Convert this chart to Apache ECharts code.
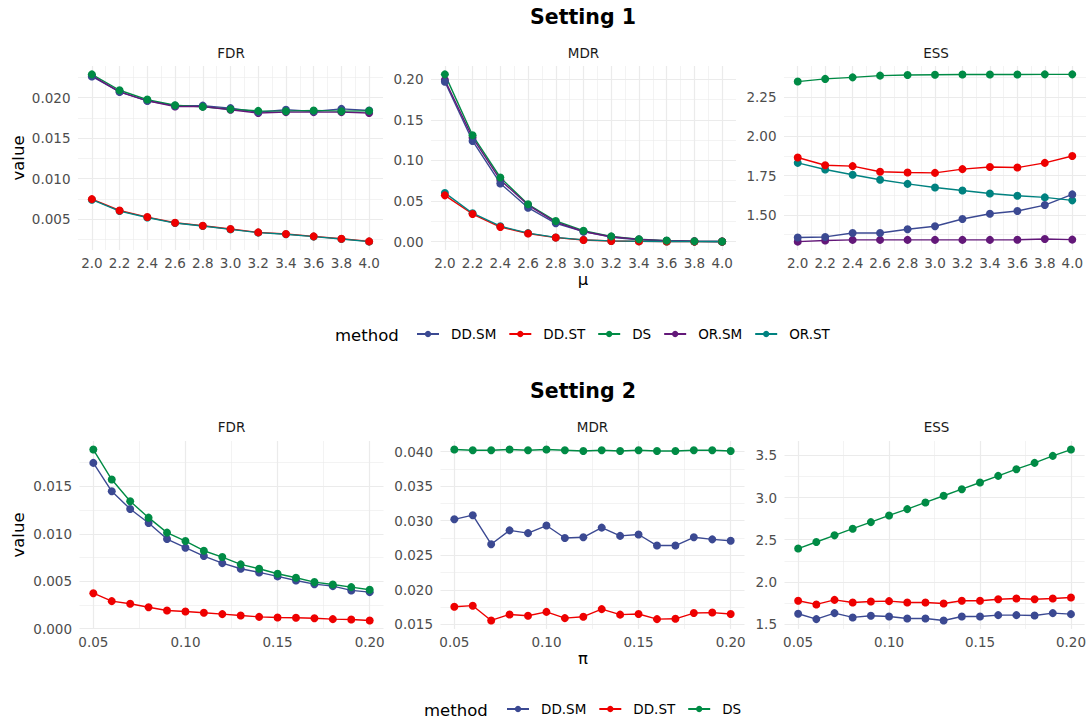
<!DOCTYPE html>
<html>
<head>
<meta charset="utf-8">
<script src="https://cdn.jsdelivr.net/npm/echarts@6/dist/echarts.min.js"></script>
<style>
html,body{margin:0;padding:0;background:#fff;}
#chart{width:1089px;height:721px;}
</style>
</head>
<body>
<div id="chart"></div>
<script>
// ---------- Data ----------
const methods1 = ['DD.SM', 'DD.ST', 'DS', 'OR.SM', 'OR.ST'];
const methods2 = ['DD.SM', 'DD.ST', 'DS'];
const muValues = [2.0, 2.2, 2.4, 2.6, 2.8, 3.0, 3.2, 3.4, 3.6, 3.8, 4.0];
const piValues = [0.05, 0.06, 0.07, 0.08, 0.09, 0.10, 0.11, 0.12, 0.13, 0.14, 0.15, 0.16, 0.17, 0.18, 0.19, 0.20];

// Setting 1 - FDR
const s1FDR_DDSM = [0.0226, 0.0207, 0.0196, 0.0190, 0.0190, 0.0187, 0.0182, 0.0185, 0.0183, 0.0186, 0.0184];
const s1FDR_DDST = [0.00747, 0.00607, 0.00526, 0.00456, 0.00419, 0.00378, 0.00337, 0.00317, 0.00288, 0.00259, 0.00226];
const s1FDR_DS   = [0.02286, 0.0209, 0.01975, 0.01905, 0.01885, 0.01856, 0.01836, 0.01832, 0.0184, 0.01832, 0.01836];
const s1FDR_ORSM = [0.0227, 0.0207, 0.0196, 0.0189, 0.0189, 0.0185, 0.0181, 0.0182, 0.0182, 0.0182, 0.0181];
const s1FDR_ORST = [0.0074, 0.0060, 0.0052, 0.00452, 0.00415, 0.00374, 0.00334, 0.00314, 0.00285, 0.00256, 0.00223];

// Setting 1 - MDR
const s1MDR_DDSM = [0.197, 0.124, 0.0717, 0.0418, 0.0226, 0.0123, 0.0055, 0.0022, 0.0008, 0.0003, 0.0001];
const s1MDR_DDST = [0.057, 0.034, 0.0180, 0.0100, 0.0050, 0.0020, 0.0008, 0.0003, 0.0001, 0.00003, 0.00001];
const s1MDR_DS   = [0.206, 0.131, 0.0790, 0.0460, 0.0254, 0.0135, 0.0065, 0.0030, 0.0013, 0.0005, 0.0002];
const s1MDR_ORSM = [0.199, 0.128, 0.0760, 0.0450, 0.0240, 0.0125, 0.0060, 0.0028, 0.0012, 0.0005, 0.0002];
const s1MDR_ORST = [0.060, 0.035, 0.0190, 0.0105, 0.0052, 0.0022, 0.0009, 0.0004, 0.00015, 0.00005, 0.00002];

// Setting 1 - ESS
const s1ESS_DDSM = [1.355, 1.359, 1.384, 1.384, 1.408, 1.427, 1.473, 1.507, 1.524, 1.562, 1.630];
const s1ESS_DDST = [1.865, 1.816, 1.810, 1.774, 1.770, 1.767, 1.791, 1.805, 1.801, 1.831, 1.875];
const s1ESS_DS   = [2.349, 2.366, 2.376, 2.387, 2.391, 2.393, 2.394, 2.394, 2.394, 2.395, 2.395];
const s1ESS_ORSM = [1.329, 1.336, 1.340, 1.340, 1.340, 1.340, 1.340, 1.340, 1.341, 1.346, 1.342];
const s1ESS_ORST = [1.831, 1.789, 1.755, 1.723, 1.697, 1.674, 1.655, 1.636, 1.621, 1.611, 1.592];

// Setting 2 - FDR
const s2FDR_DDSM = [0.01748, 0.01448, 0.01261, 0.01113, 0.00944, 0.00853, 0.00765, 0.0069, 0.00631, 0.00592, 0.0055, 0.00507, 0.00468, 0.00447, 0.00402, 0.00384];
const s2FDR_DDST = [0.00373, 0.00289, 0.00261, 0.00225, 0.0019, 0.0018, 0.00166, 0.00152, 0.00137, 0.00123, 0.00116, 0.00113, 0.00109, 0.00099, 0.00095, 0.00085];
const s2FDR_DS   = [0.01889, 0.01572, 0.01343, 0.0117, 0.01012, 0.00923, 0.00821, 0.00754, 0.00677, 0.00631, 0.00578, 0.00536, 0.0049, 0.00465, 0.00437, 0.00409];

// Setting 2 - MDR
const s2MDR_DDSM = [0.0302, 0.0308, 0.0266, 0.0286, 0.0282, 0.0293, 0.0275, 0.0276, 0.0290, 0.0278, 0.0280, 0.0264, 0.0264, 0.0276, 0.0273, 0.0271];
const s2MDR_DDST = [0.01754, 0.0177, 0.01556, 0.01643, 0.01624, 0.0168, 0.0159, 0.0161, 0.0172, 0.0164, 0.0165, 0.01575, 0.0158, 0.01663, 0.0167, 0.0165];
const s2MDR_DS   = [0.0403, 0.0402, 0.0402, 0.0403, 0.0402, 0.0403, 0.0402, 0.0401, 0.0402, 0.0401, 0.0402, 0.0401, 0.0401, 0.0402, 0.0402, 0.0401];

// Setting 2 - ESS
const s2ESS_DDSM = [1.622, 1.559, 1.630, 1.579, 1.598, 1.590, 1.567, 1.567, 1.543, 1.590, 1.590, 1.606, 1.606, 1.602, 1.630, 1.618];
const s2ESS_DDST = [1.776, 1.733, 1.787, 1.756, 1.768, 1.772, 1.756, 1.756, 1.744, 1.776, 1.776, 1.795, 1.803, 1.795, 1.803, 1.815];
const s2ESS_DS   = [2.395, 2.473, 2.552, 2.631, 2.709, 2.788, 2.863, 2.942, 3.021, 3.099, 3.178, 3.257, 3.336, 3.411, 3.494, 3.569];

// Tick settings (interval, decimals)
const xTicks1 = { step: 0.2, digits: 1 };
const xTicks2 = { step: 0.05, digits: 2 };
const yTicks = [
  { step: 0.005, digits: 3 }, { step: 0.05, digits: 2 }, { step: 0.25, digits: 2 },
  { step: 0.005, digits: 3 }, { step: 0.005, digits: 3 }, { step: 0.5, digits: 1 }
];
const panelTitles = ['FDR', 'MDR', 'ESS'];

// ---------- Styling ----------
const FONT = 'DejaVu Sans';
const colors = { 'DD.SM': '#3B4992', 'DD.ST': '#EE0000', 'DS': '#008B45', 'OR.SM': '#631879', 'OR.ST': '#008280' };
const pointOrder = ['OR.SM', 'OR.ST', 'DD.SM', 'DD.ST', 'DS'];

const panels = [
  { x: muValues, series: { 'DD.SM': s1FDR_DDSM, 'DD.ST': s1FDR_DDST, 'DS': s1FDR_DS, 'OR.SM': s1FDR_ORSM, 'OR.ST': s1FDR_ORST } },
  { x: muValues, series: { 'DD.SM': s1MDR_DDSM, 'DD.ST': s1MDR_DDST, 'DS': s1MDR_DS, 'OR.SM': s1MDR_ORSM, 'OR.ST': s1MDR_ORST } },
  { x: muValues, series: { 'DD.SM': s1ESS_DDSM, 'DD.ST': s1ESS_DDST, 'DS': s1ESS_DS, 'OR.SM': s1ESS_ORSM, 'OR.ST': s1ESS_ORST } },
  { x: piValues, series: { 'DD.SM': s2FDR_DDSM, 'DD.ST': s2FDR_DDST, 'DS': s2FDR_DS } },
  { x: piValues, series: { 'DD.SM': s2MDR_DDSM, 'DD.ST': s2MDR_DDST, 'DS': s2MDR_DS } },
  { x: piValues, series: { 'DD.SM': s2ESS_DDSM, 'DD.ST': s2ESS_DDST, 'DS': s2ESS_DS } }
];

const gridBoxes = [
  { left: 78, top: 66, width: 305, height: 184 },
  { left: 431, top: 66, width: 305, height: 184 },
  { left: 784, top: 66, width: 304, height: 184 },
  { left: 79.5, top: 441, width: 304, height: 188 },
  { left: 440.5, top: 441, width: 304, height: 188 },
  { left: 784.5, top: 441, width: 304, height: 188 }
];

function expandRange(arrs) {
  let lo = Infinity, hi = -Infinity;
  arrs.forEach(a => a.forEach(v => { lo = Math.min(lo, v); hi = Math.max(hi, v); }));
  const pad = (hi - lo) * 0.05;
  return [lo - pad, hi + pad];
}
function labelFmt(t) {
  return function (v) {
    const r = v / t.step;
    return Math.abs(r - Math.round(r)) < 1e-6 ? v.toFixed(t.digits) : '';
  };
}

const gridLine = { show: true, showMinLine: false, showMaxLine: false, lineStyle: { color: '#EBEBEB', width: 1.2 } };
const minorLine = { show: true, lineStyle: { color: '#EBEBEB', width: 0.6 } };
const axisText = { color: '#4D4D4D', fontSize: 13.5, fontFamily: FONT };

const grids = [], xAxes = [], yAxes = [], series = [];
panels.forEach((p, i) => {
  grids.push(Object.assign({ containLabel: false }, gridBoxes[i]));
  const xt = i < 3 ? xTicks1 : xTicks2;
  const xr = expandRange([p.x]);
  xAxes.push({
    type: 'value', gridIndex: i, min: xr[0], max: xr[1],
    minInterval: xt.step, maxInterval: xt.step, splitNumber: 10,
    axisLine: { show: false }, axisTick: { show: false },
    axisLabel: Object.assign({ margin: 6, formatter: labelFmt(xt) }, axisText),
    splitLine: gridLine,
    minorTick: { show: false, splitNumber: 2 },
    minorSplitLine: minorLine
  });
  const yr = expandRange(Object.values(p.series));
  const yt = yTicks[i];
  yAxes.push({
    type: 'value', gridIndex: i, min: yr[0], max: yr[1],
    minInterval: yt.step, maxInterval: yt.step, splitNumber: 5,
    axisLine: { show: false }, axisTick: { show: false },
    axisLabel: Object.assign({ margin: 7.5, formatter: labelFmt(yt) }, axisText),
    splitLine: gridLine,
    minorTick: { show: false, splitNumber: 2 },
    minorSplitLine: minorLine
  });
});

// lines first (under all points), like geom_line + geom_point
panels.forEach((p, i) => {
  Object.keys(p.series).forEach(m => {
    series.push({
      type: 'line', name: m, xAxisIndex: i, yAxisIndex: i, z: 2,
      data: p.x.map((x, k) => [x, p.series[m][k]]),
      symbol: 'circle', showSymbol: false, symbolSize: 8,
      lineStyle: { color: colors[m], width: 1.4 },
      itemStyle: { color: colors[m] },
      silent: true, animation: false
    });
  });
});
panels.forEach((p, i) => {
  pointOrder.filter(m => p.series[m]).forEach(m => {
    series.push({
      type: 'scatter', name: m, xAxisIndex: i, yAxisIndex: i, z: 3,
      data: p.x.map((x, k) => [x, p.series[m][k]]),
      symbol: 'circle', symbolSize: 8,
      itemStyle: { color: colors[m], opacity: 1 },
      silent: true, animation: false
    });
  });
});

const legendText = { fontSize: 13.5, color: '#000000', fontFamily: FONT, padding: [0, 0, 0, 7] };
const legends = [
  { data: methods1, left: 416, top: 327, padding: 0, itemWidth: 22, itemHeight: 8, itemGap: 12, selectedMode: false, textStyle: legendText },
  { data: methods2, left: 506, top: 702, padding: 0, itemWidth: 22, itemHeight: 8, itemGap: 12, selectedMode: false, textStyle: legendText }
];

function txt(text, x, y, opts) {
  opts = opts || {};
  return {
    type: 'text', x: x, y: y, rotation: opts.rotation || 0, silent: true,
    style: {
      text: text,
      font: (opts.weight || 'normal') + ' ' + (opts.size || 13.5) + 'px "' + FONT + '"',
      fill: opts.color || '#000000',
      align: opts.align || 'center', verticalAlign: 'middle',
      textAlign: opts.align || 'center', textVerticalAlign: 'middle'
    }
  };
}
const stripCenters = [231, 583.5, 936, 231.5, 592.5, 936.5];
const graphics = [
  txt('Setting 1', 583, 17, { size: 20.5, weight: 'bold' }),
  txt('Setting 2', 583, 391, { size: 20.5, weight: 'bold' }),
  txt('value', 18, 158, { size: 16.5, rotation: Math.PI / 2 }),
  txt('value', 18, 535, { size: 16.5, rotation: Math.PI / 2 }),
  txt('μ', 583, 279, { size: 16.5 }),
  txt('π', 583, 658, { size: 16.5 }),
  txt('method', 335, 335, { size: 16.5, align: 'left' }),
  txt('method', 424, 710, { size: 16.5, align: 'left' })
];
panelTitles.concat(panelTitles).forEach((t, i) => {
  graphics.push(txt(t, stripCenters[i], i < 3 ? 53 : 427, { size: 13.5, color: '#1A1A1A' }));
});

const chart = echarts.init(document.getElementById('chart'), null, { renderer: 'svg' });
chart.setOption({
  backgroundColor: '#ffffff',
  animation: false,
  grid: grids,
  xAxis: xAxes,
  yAxis: yAxes,
  legend: legends,
  series: series,
  graphic: graphics
});
</script>
</body>
</html>
